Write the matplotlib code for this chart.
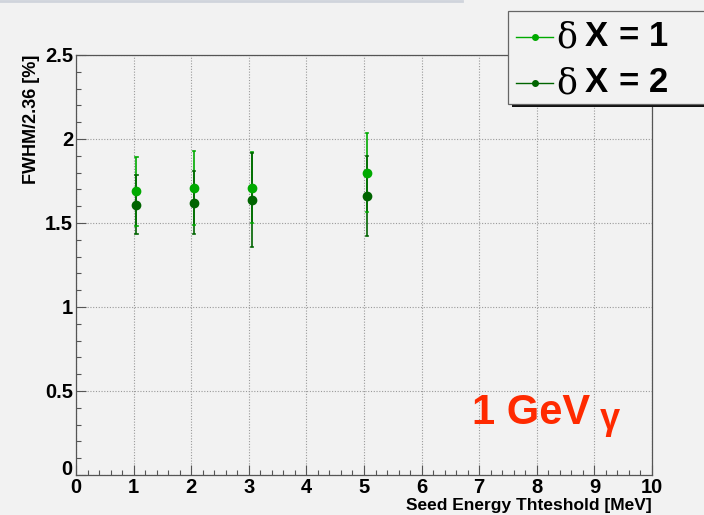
import matplotlib.pyplot as plt
from matplotlib.ticker import MultipleLocator, FormatStrFormatter, FuncFormatter
from matplotlib.lines import Line2D
from matplotlib.patches import Rectangle

# seed threshold scan, 1 GeV photons
thr = [1.05, 2.05, 3.05, 5.05]
res_dx1 = [1.69, 1.71, 1.71, 1.80]
err_dx1 = [0.205, 0.22, 0.21, 0.235]
res_dx2 = [1.61, 1.62, 1.635, 1.66]
err_dx2 = [0.175, 0.187, 0.28, 0.238]

bg = "#f2f2f2"
c1 = "#00aa00"
c2 = "#006400"

plt.rcParams["font.family"] = ["Liberation Sans", "DejaVu Sans"]

fig = plt.figure(figsize=(7.04, 5.15), dpi=100, facecolor=bg)
ax = fig.add_axes([76 / 704, 1 - 475 / 515, 576 / 704, 420 / 515], facecolor=bg)

ax.errorbar(thr, res_dx1, yerr=err_dx1, fmt="o", color=c1, ms=6, elinewidth=1.2,
            capsize=0, zorder=3)
ax.errorbar(thr, res_dx2, yerr=err_dx2, fmt="o", color=c2, ms=6, elinewidth=1.2,
            capsize=0, zorder=3)
# small end marks on the error bars
for xs, ys, es, c in [(thr, res_dx1, err_dx1, c1), (thr, res_dx2, err_dx2, c2)]:
    for x, y, e in zip(xs, ys, es):
        ax.plot([x - 0.02, x + 0.02], [y + e] * 2, color=c, lw=1.2, zorder=3)
        ax.plot([x - 0.02, x + 0.02], [y - e] * 2, color=c, lw=1.2, zorder=3)

ax.set_xlim(0, 10)
ax.set_ylim(0, 2.5)
ax.xaxis.set_major_locator(MultipleLocator(1))
ax.xaxis.set_minor_locator(MultipleLocator(0.2))
ax.yaxis.set_major_locator(MultipleLocator(0.5))
ax.yaxis.set_minor_locator(MultipleLocator(0.1))
ax.xaxis.set_major_formatter(FormatStrFormatter("%g"))
# y "0" is drawn by hand a bit higher so it clears the x "0"
ax.yaxis.set_major_formatter(FuncFormatter(lambda v, p: "" if v == 0 else "%g" % v))
ax.tick_params(which="both", direction="in", top=False, right=False, color="#555555")
ax.tick_params(which="major", length=7, width=0.8, labelsize=14.5, pad=2)
ax.tick_params(which="minor", length=3.5, width=0.8)
for lab in ax.get_xticklabels() + ax.get_yticklabels():
    lab.set_fontweight("bold")
ax.text(-0.006, 0.012, "0", transform=ax.transAxes, fontsize=14.5,
        fontweight="bold", ha="right", va="center")
ax.grid(True, which="major", ls=(0, (1, 1.5)), color="#9a9a9a", lw=0.8)
for s in ax.spines.values():
    s.set_color("#555555")
    s.set_linewidth(0.9)

ax.set_xlabel("Seed Energy Thteshold [MeV]", fontsize=12.5, fontweight="bold",
              loc="right", labelpad=1)
ax.set_ylabel("FWHM/2.36 [%]", fontsize=13, fontweight="bold", loc="top",
              labelpad=4)

ax.text(0.893, 0.148, "1 GeV", transform=ax.transAxes, color="#ff2a00",
        fontsize=30, fontweight="bold", ha="right", va="center")
ax.text(0.91, 0.133, "γ", transform=ax.transAxes, color="#ff2a00",
        fontsize=26, fontweight="bold", ha="left", va="center")

# legend box with drop shadow
fig.patches.append(Rectangle((512 / 704, 1 - 107 / 515), 200 / 704, 93 / 515,
                             transform=fig.transFigure, facecolor="#111111",
                             edgecolor="none", zorder=5))
fig.patches.append(Rectangle((508 / 704, 1 - 104 / 515), 200 / 704, 93 / 515,
                             transform=fig.transFigure, facecolor=bg,
                             edgecolor="#666666", lw=0.9, zorder=6))
labels = [("1", c1, 37), ("2", c2, 83)]
for val, c, yp in labels:
    y = 1 - yp / 515
    fig.add_artist(Line2D([516 / 704, 553 / 704], [y, y], color=c, lw=1.0, zorder=7))
    fig.add_artist(Line2D([535 / 704], [y], color=c, marker="o", ms=4, zorder=7))
    fig.text(556 / 704, y, "δ", fontsize=25, fontfamily="DejaVu Serif",
             va="center", ha="left", zorder=7)
    fig.text(585 / 704, y, "X", fontsize=25, fontweight="bold",
             va="center", ha="left", zorder=7)
    fig.text(619 / 704, y, "= " + val, fontsize=25, fontweight="bold",
             va="center", ha="left", zorder=7)

# thin strip along the top edge
fig.add_artist(Line2D([0, 462 / 704], [1 - 1 / 515] * 2, color="#d0d4dc", lw=2))

fig.savefig("out.png", dpi=100, facecolor=bg)
